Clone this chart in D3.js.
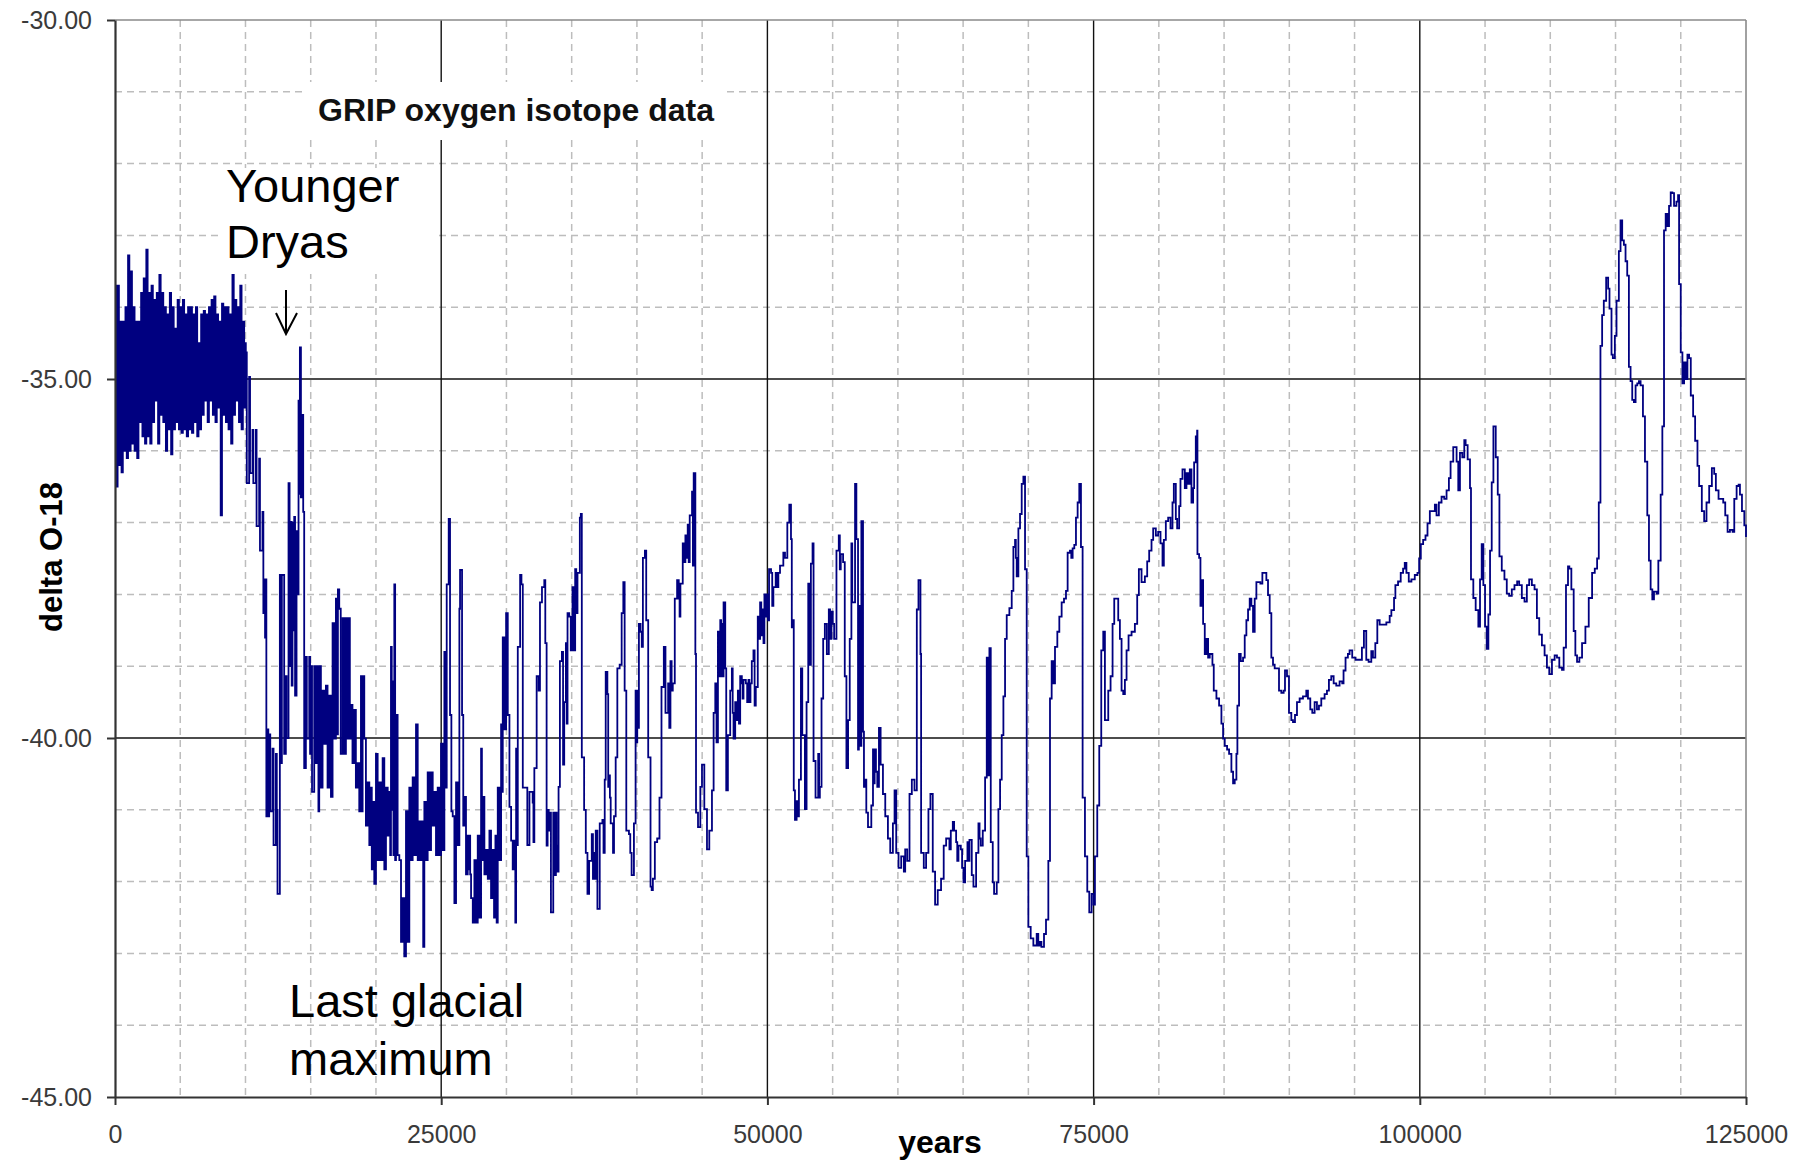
<!DOCTYPE html>
<html><head><meta charset="utf-8">
<script src="https://cdn.jsdelivr.net/npm/d3@7"></script>
<style>body{margin:0;background:#fff}svg{display:block}</style>
</head><body>
<svg id="c" width="1806" height="1167"></svg>
<script>
// GRIP delta O-18 readings: [years before present, delta O-18]
const holocene = [[0,-33.7],[100,-36.5],[200,-33.7],[300,-36.2],[400,-34.2],[500,-36.3],[600,-34.2],[700,-36.0],[800,-34.0],[900,-36.1],[1000,-33.28],[1100,-36.0],[1200,-33.5],[1300,-35.9],[1400,-34.0],[1500,-36.0],[1600,-34.2],[1700,-36.1],[1800,-34.2],[1900,-35.6],[2000,-33.8],[2100,-35.8],[2200,-33.6],[2300,-35.9],[2400,-33.2],[2500,-35.8],[2600,-33.8],[2700,-35.9],[2800,-33.7],[2900,-35.6],[3000,-33.9],[3100,-35.3],[3200,-33.8],[3300,-35.9],[3400,-33.55],[3500,-35.5],[3600,-33.8],[3700,-35.6],[3800,-34.0],[3900,-36.0],[4000,-34.1],[4100,-35.7],[4200,-33.8],[4300,-36.05],[4400,-34.0],[4500,-35.7],[4600,-34.3],[4700,-35.6],[4800,-33.9],[4900,-35.7],[5000,-34.0],[5100,-35.75],[5200,-33.9],[5300,-35.7],[5400,-34.1],[5500,-35.8],[5600,-34.0],[5700,-35.7],[5800,-34.0],[5900,-35.75],[6000,-34.1],[6100,-35.6],[6200,-34.0],[6300,-35.8],[6400,-34.5],[6500,-35.7],[6600,-34.1],[6700,-35.5],[6800,-34.05],[6900,-35.3],[7000,-34.1],[7100,-35.6],[7200,-34.0],[7300,-35.3],[7400,-33.9],[7500,-35.5],[7600,-33.85],[7700,-35.6],[7800,-34.1],[7900,-35.4],[8000,-34.2],[8100,-36.9],[8200,-33.95],[8300,-35.5],[8400,-34.0],[8500,-35.6],[8600,-34.0],[8700,-35.7],[8800,-34.1],[8900,-35.9],[9000,-33.45],[9100,-35.5],[9200,-33.9],[9300,-35.3],[9400,-34.0],[9500,-35.6],[9600,-33.7],[9700,-35.7],[9800,-34.2],[9900,-35.4],[10000,-34.5]];

const deglacial = [[10025,-34.63],[10100,-36.45],[10281,-34.97],[10350,-36.31],[10537,-35.71],[10600,-36.45],[10793,-35.71],[10850,-37.05],[11048,-36.11],[11110,-37.39],[11304,-36.85],[11370,-38.26],[11432,-37.79],[11500,-38.6],[11560,-37.79],[11600,-41.09],[11688,-39.88],[11750,-41.09],[11816,-39.95],[11900,-41.02],[12071,-40.15],[12150,-41.49],[12327,-40.22],[12400,-41.0],[12455,-42.17],[12634,-37.73],[12700,-40.35],[12788,-37.73],[12966,-40.22],[13094,-39.14],[13150,-40.0],[13299,-36.45],[13380,-39.0],[13478,-36.99],[13540,-39.27],[13606,-37.0],[13670,-38.5],[13734,-36.92],[13800,-39.41],[13913,-37.12],[13990,-38.0],[14066,-35.3],[14110,-36.6],[14169,-34.56],[14250,-36.65],[14322,-35.5],[14424,-36.85],[14500,-40.42],[14629,-38.87],[14700,-40.01],[14885,-38.87],[14950,-40.22],[15013,-39.0],[15100,-40.75],[15268,-39.0],[15400,-40.35],[15524,-39.0],[15590,-41.02],[15652,-39.0],[15780,-40.69],[15908,-39.34],[16030,-40.08],[16163,-39.27],[16290,-40.69],[16419,-39.41],[16550,-40.82],[16675,-38.40],[16800,-40.01],[16931,-38.06],[17000,-39.95],[17084,-37.93],[17186,-38.2],[17300,-40.22],[17442,-38.33],[17570,-40.22],[17698,-38.33],[17800,-40.01],[17903,-38.33],[18000,-40.01],[18082,-39.54],[18200,-40.35],[18337,-39.61],[18460,-40.69],[18593,-40.35],[18720,-41.02],[18849,-39.14],[18910,-41.02],[18977,-39.14],[19105,-40.01],[19230,-41.22],[19360,-40.62],[19490,-41.49],[19616,-40.69],[19680,-41.83],[19744,-40.89],[19870,-42.03],[20000,-40.22],[20130,-41.7],[20255,-40.62],[20380,-41.7],[20511,-40.28],[20640,-41.83],[20767,-40.69],[20900,-41.36],[21023,-40.75],[21090,-41.63],[21150,-38.73],[21210,-41.0],[21278,-39.21],[21340,-41.63],[21406,-37.86],[21470,-41.7],[21534,-39.68],[21660,-41.63],[21790,-41.7],[21920,-42.84],[22046,-42.23],[22170,-43.04],[22301,-41.02],[22430,-42.84],[22557,-40.69],[22690,-41.7],[22813,-40.55],[22940,-41.63],[23069,-39.81],[23200,-41.7],[23324,-41.16],[23430,-41.7],[23529,-41.16],[23620,-42.91],[23708,-40.89],[23840,-41.7],[23964,-40.48],[24090,-41.56],[24220,-40.48],[24350,-41.22],[24475,-40.75],[24600,-41.63],[24731,-40.69],[24860,-41.63],[24987,-40.08],[25110,-41.56],[25243,-38.80],[25330,-40.69],[25422,-37.86],[25575,-36.95],[25677,-39.68],[25780,-41.02],[25882,-41.09],[26010,-42.30],[26138,-40.62],[26260,-41.49],[26393,-38.20],[26445,-37.66],[26598,-39.68],[26690,-41.22],[26777,-40.82],[26900,-41.90],[27033,-41.36],[27100,-41.83],[27161,-41.36],[27220,-41.90],[27289,-42.23],[27420,-42.57],[27544,-41.70],[27670,-42.57],[27800,-41.36],[27930,-42.50],[28056,-40.15],[28120,-41.70],[28184,-40.82],[28310,-41.90],[28439,-41.56],[28570,-41.96],[28695,-41.29],[28820,-42.23],[28951,-41.56],[29050,-42.50],[29156,-41.36],[29250,-42.57],[29334,-40.69],[29460,-41.70],[29590,-39.81],[29650,-40.75],[29718,-38.60],[29850,-39.88],[29974,-38.26],[30102,-39.68],[30230,-40.96],[30358,-41.43],[30480,-41.83],[30613,-41.43],[30680,-42.57],[30741,-40.15],[30800,-41.49],[30869,-38.73],[31048,-37.73],[31150,-37.86],[31253,-40.69],[31508,-40.69],[31600,-41.49],[31764,-40.75]];

const stage3 = [[32010,-40.9],[32070,-41.45],[32138,-40.42],[32316,-39.14],[32468,-39.34],[32570,-38.11],[32723,-37.9],[32901,-37.8],[32978,-38.68],[33079,-41.5],[33155,-41.0],[33240,-41.29],[33334,-41.04],[33410,-42.43],[33486,-42.43],[33588,-41.04],[33690,-41.91],[33792,-41.04],[33850,-41.5],[33919,-41.86],[33995,-40.68],[34097,-38.93],[34250,-38.80],[34340,-40.37],[34428,-39.5],[34555,-38.68],[34620,-39.8],[34682,-38.26],[34809,-38.31],[34930,-38.78],[35064,-37.9],[35160,-38.78],[35267,-37.65],[35350,-38.26],[35445,-37.7],[35624,-36.93],[35700,-36.88],[35776,-40.27],[35954,-41.0],[36082,-41.6],[36209,-42.17],[36336,-41.71],[36540,-41.34],[36630,-41.96],[36718,-41.6],[36780,-41.96],[36845,-41.29],[36972,-42.38],[37150,-41.19],[37354,-41.14],[37440,-41.6],[37532,-40.58],[37608,-39.08],[37736,-39.39],[37800,-40.68],[37863,-40.52],[37930,-40.83],[37990,-41.19],[38168,-41.6],[38244,-41.09],[38372,-40.27],[38499,-39.03],[38677,-38.98],[38830,-38.26],[38957,-37.83],[39059,-39.34],[39186,-41.29],[39389,-41.34],[39490,-41.6],[39593,-41.91],[39771,-41.19],[39898,-39.34],[39960,-40.06],[40026,-39.34],[40090,-39.86],[40153,-38.41],[40280,-38.52],[40370,-38.73],[40458,-37.49],[40611,-37.39],[40713,-38.36],[40865,-40.27],[41043,-42.07],[41130,-42.12],[41222,-41.96],[41374,-41.45],[41552,-41.4],[41730,-40.83],[41883,-39.29],[42061,-38.73],[42188,-39.65],[42392,-39.24],[42480,-39.86],[42570,-38.93],[42660,-39.34],[42748,-39.24],[42901,-38.06],[43079,-37.8],[43206,-38.06],[43270,-38.31],[43333,-37.85],[43512,-37.29],[43610,-37.55],[43715,-37.18],[43800,-37.49],[43893,-37.03],[43970,-37.55],[44046,-36.9],[44224,-36.57],[44290,-37.6],[44351,-36.31],[44478,-38.83],[44529,-41.04],[44682,-41.24],[44860,-40.68],[44987,-40.37],[45165,-40.99],[45369,-41.55],[45547,-41.29],[45751,-40.73],[45878,-39.65],[46005,-39.24],[46100,-40.06],[46209,-38.52],[46300,-39.14],[46387,-38.36],[46450,-39.14],[46514,-38.41],[46580,-39.14],[46641,-38.11],[46769,-39.03],[46845,-40.73],[46972,-39.96],[47150,-39.34],[47277,-39.03],[47340,-39.65],[47405,-40.01],[47532,-39.5],[47630,-39.75],[47736,-39.34],[47820,-39.8],[47914,-39.14],[48041,-39.24],[48100,-39.45],[48168,-39.19],[48346,-39.24],[48450,-39.5],[48550,-39.19],[48620,-39.5],[48702,-39.24],[48804,-38.93],[48931,-38.78],[49020,-39.55],[49109,-39.29],[49262,-38.31],[49350,-38.62],[49440,-38.11],[49530,-38.57],[49618,-38.21],[49700,-38.68],[49771,-38.0],[49860,-38.31],[49949,-38.0],[50040,-38.36],[50127,-37.65],[50280,-37.7],[50370,-38.16],[50458,-37.9],[50636,-37.7],[50740,-37.9],[50840,-37.7],[50967,-37.6],[51221,-37.42],[51349,-37.49],[51527,-37.0],[51680,-36.75],[51807,-37.23],[51870,-38.46],[51934,-38.36],[52020,-40.73],[52112,-41.14],[52239,-40.88],[52330,-41.09],[52417,-40.58],[52570,-39.03],[52672,-39.96],[52875,-40.99],[53002,-39.5],[53130,-37.85],[53230,-38.98],[53333,-37.57],[53460,-37.29],[53537,-40.32],[53689,-40.83],[53893,-40.22],[53960,-40.83],[54020,-40.68],[54148,-39.45],[54275,-38.62],[54402,-38.41],[54555,-38.83],[54707,-38.21],[54800,-38.62],[54911,-38.24],[55010,-38.41],[55115,-38.62],[55293,-37.39],[55471,-37.18],[55550,-37.65],[55623,-37.44],[55801,-37.55],[55929,-39.14],[56056,-40.42],[56183,-39.75],[56310,-38.62],[56438,-37.29],[56500,-38.11],[56565,-38.11],[56718,-36.46],[56819,-37.23],[56946,-40.16],[57010,-38.16],[57074,-40.11],[57201,-36.98],[57328,-39.91],[57400,-40.68],[57455,-40.58],[57580,-41.04],[57710,-41.24],[57964,-40.94],[58092,-40.16],[58150,-40.63],[58219,-40.16],[58320,-40.47],[58422,-40.68],[58549,-39.86],[58677,-40.37],[58855,-40.78],[59033,-41.09],[59237,-41.4],[59415,-41.6],[59618,-41.19],[59745,-40.73],[59873,-41.6],[60051,-41.81],[60255,-41.65],[60458,-41.86],[60560,-41.55],[60713,-41.71],[60891,-40.78],[61069,-40.58],[61272,-40.73],[61451,-38.21],[61578,-37.8],[61730,-38.83],[61781,-41.6],[61985,-41.81],[62163,-41.6],[62341,-40.99],[62494,-40.78],[62673,-41.86],[62851,-42.32],[63054,-42.12],[63309,-41.96],[63512,-41.5]];

const stage4 = [[63699,-41.40],[63878,-41.40],[63950,-41.55],[64056,-41.29],[64209,-41.17],[64311,-41.29],[64464,-41.45],[64550,-41.71],[64643,-41.50],[64822,-41.55],[64920,-41.81],[65026,-42.01],[65153,-41.71],[65332,-41.45],[65400,-41.71],[65485,-41.42],[65663,-41.91],[65791,-42.07],[65995,-41.60],[66174,-41.19],[66260,-41.40],[66352,-41.50],[66505,-41.29],[66684,-40.55],[66811,-38.88],[66939,-40.52],[67015,-38.75],[67118,-41.45],[67271,-42.01],[67373,-42.17],[67577,-42.01],[67704,-40.99],[67832,-40.58],[67959,-39.96],[68087,-39.42],[68214,-38.62],[68342,-38.29],[68546,-38.19],[68725,-37.95],[68852,-37.34],[68980,-37.24],[69040,-37.49],[69107,-37.75],[69235,-37.08],[69362,-36.88],[69490,-36.46],[69618,-36.36],[69745,-37.65],[69873,-41.65],[70000,-42.63],[70179,-42.79],[70383,-42.89],[70638,-42.73],[70760,-42.89],[70893,-42.84],[71000,-42.91],[71199,-42.73],[71352,-42.53],[71531,-41.71],[71658,-39.45],[71786,-38.93],[71913,-39.24],[72041,-38.73],[72220,-38.52],[72373,-38.31],[72551,-38.11],[72730,-38.06],[72883,-37.95],[73010,-37.42],[73189,-37.39],[73290,-37.49],[73393,-37.36],[73521,-37.31],[73648,-36.93],[73776,-36.72],[73903,-36.46],[74031,-37.34],[74158,-40.83],[74337,-41.65],[74515,-42.14],[74668,-42.43],[74847,-42.17],[75000,-42.32],[75102,-41.65],[75281,-40.94],[75434,-40.11],[75587,-38.78],[75740,-38.52],[75867,-39.75],[75995,-39.75],[76123,-39.34],[76301,-39.14],[76454,-38.41],[76582,-38.06],[76760,-38.06],[76888,-38.36],[77015,-38.62],[77143,-39.34],[77271,-39.39],[77398,-39.19],[77526,-38.78],[77679,-38.57],[77909,-38.52],[78163,-38.41],[78342,-38.01],[78469,-37.65],[78674,-37.83],[78929,-37.75],[79107,-37.54],[79260,-37.39],[79439,-37.24],[79566,-37.08],[79770,-37.18],[79949,-37.13],[80128,-37.29],[80281,-37.60],[80383,-37.24],[80536,-36.98],[80714,-36.93],[80893,-37.08],[81046,-36.72],[81148,-36.46],[81301,-36.95],[81403,-37.08],[81556,-36.77],[81658,-36.39],[81811,-36.26],[81990,-36.52],[82117,-36.31],[82245,-36.46],[82373,-36.26],[82500,-36.72],[82628,-36.52],[82704,-36.16],[82832,-35.80],[82934,-35.72],[82959,-37.44],[83087,-37.49],[83189,-38.16],[83291,-37.80],[83393,-38.41],[83520,-38.83],[83648,-38.62],[83776,-38.88],[83903,-38.83],[84107,-38.98],[84209,-39.34],[84413,-39.45],[84617,-39.55],[84796,-39.80],[84924,-40.01],[85051,-40.11],[85230,-40.16],[85383,-40.22],[85561,-40.47],[85689,-40.63],[85816,-40.58],[85944,-40.22],[86020,-39.55],[86148,-38.83],[86276,-38.93],[86454,-38.88],[86582,-38.57],[86709,-38.36],[86837,-38.21],[86964,-38.06],[87092,-38.16],[87219,-38.52],[87347,-38.06],[87475,-37.83],[87602,-37.83],[87781,-37.85],[87934,-37.70],[88112,-37.70],[88240,-37.80],[88367,-38.01],[88495,-38.26],[88622,-38.88],[88750,-38.98],[88878,-39.03],[89056,-39.03],[89209,-39.34],[89388,-39.37],[89566,-39.34],[89668,-39.06],[89821,-39.14],[89974,-39.65],[90153,-39.75],[90281,-39.78],[90434,-39.68],[90587,-39.50],[90791,-39.45],[91046,-39.42],[91301,-39.34],[91429,-39.45],[91607,-39.60],[91760,-39.65],[91939,-39.50],[92117,-39.60],[92270,-39.55],[92449,-39.45],[92704,-39.39],[92883,-39.34],[93036,-39.19],[93214,-39.14],[93397,-39.24],[93597,-39.27],[93852,-39.21],[94054,-39.24],[94156,-39.06],[94309,-38.88],[94488,-38.83],[94617,-38.78],[94820,-38.88],[95075,-38.91],[95331,-38.91]];

const eemian = [[95564,-38.74],[95718,-38.51],[95897,-38.91],[96077,-38.94],[96282,-38.79],[96410,-38.88],[96590,-38.68],[96744,-38.36],[96923,-38.42],[97179,-38.42],[97436,-38.39],[97692,-38.30],[97820,-38.22],[98026,-38.05],[98128,-37.87],[98333,-37.82],[98538,-37.70],[98718,-37.64],[98846,-37.56],[98974,-37.70],[99154,-37.82],[99359,-37.79],[99615,-37.73],[99820,-37.70],[99949,-37.50],[100077,-37.30],[100256,-37.24],[100436,-37.18],[100590,-37.01],[100769,-36.84],[100948,-36.84],[101154,-36.75],[101282,-36.90],[101461,-36.72],[101666,-36.64],[101872,-36.67],[102051,-36.55],[102230,-36.38],[102359,-36.15],[102564,-35.95],[102692,-35.95],[102820,-36.15],[102948,-36.55],[103077,-36.03],[103256,-36.09],[103410,-35.85],[103512,-35.92],[103666,-36.12],[103846,-36.52],[103923,-37.79],[104102,-38.05],[104282,-38.22],[104487,-38.45],[104615,-37.79],[104743,-37.30],[104871,-37.87],[105000,-38.45],[105128,-38.76],[105256,-38.28],[105384,-37.39],[105512,-36.44],[105641,-35.66],[105820,-36.09],[105974,-36.61],[106102,-37.47],[106282,-37.67],[106487,-37.79],[106666,-37.99],[106846,-38.02],[107051,-37.93],[107256,-37.87],[107461,-37.82],[107615,-37.87],[107820,-38.05],[108025,-38.10],[108205,-37.87],[108384,-37.79],[108589,-37.87],[108794,-37.93],[108974,-38.33],[109153,-38.56],[109358,-38.71],[109564,-38.85],[109743,-39.02],[109922,-39.11],[110128,-38.91],[110333,-38.85],[110512,-38.88],[110692,-39.02],[110897,-39.05],[111025,-38.74],[111204,-37.87],[111358,-37.61],[111461,-37.64],[111615,-37.93],[111794,-38.51],[111922,-38.85],[112051,-38.94],[112230,-38.88],[112435,-38.68],[112692,-38.45],[112948,-38.05],[113204,-37.70],[113410,-37.64],[113589,-37.50],[113717,-36.72],[113845,-34.54],[113974,-34.11],[114102,-33.91],[114282,-33.59],[114435,-33.74],[114538,-34.02],[114692,-34.66],[114794,-34.71],[114948,-34.40],[115076,-33.91],[115256,-33.22],[115384,-32.79],[115512,-33.07],[115640,-33.13],[115768,-33.36],[115897,-33.56],[116025,-34.83],[116153,-35.03],[116281,-35.29],[116409,-35.32],[116538,-35.09],[116666,-35.06],[116794,-35.03],[116922,-35.09],[117102,-35.52],[117256,-36.15],[117435,-36.90],[117563,-37.53],[117691,-37.93],[117820,-38.07],[117948,-37.96],[118153,-37.99],[118281,-37.53],[118461,-36.61],[118589,-35.66],[118717,-32.93],[118845,-32.70],[118974,-32.87],[119102,-32.59],[119230,-32.40],[119358,-32.41],[119486,-32.59],[119666,-32.53],[119794,-32.44],[119871,-33.68],[119999,-34.63],[120127,-35.06],[120255,-34.77],[120384,-35.00],[120512,-34.66],[120640,-34.71],[120768,-35.23],[120948,-35.52],[121101,-35.86],[121281,-36.21],[121409,-36.49],[121614,-36.84],[121794,-36.98],[121973,-36.72],[122178,-36.49],[122384,-36.24],[122563,-36.32],[122691,-36.55],[122896,-36.67],[123076,-36.67],[123255,-36.72],[123409,-36.90],[123589,-37.13],[123768,-37.10],[123973,-37.13],[124101,-36.67],[124281,-36.49],[124435,-36.47],[124537,-36.61],[124691,-36.84],[124871,-37.04],[125000,-37.20]];

const xTicks = [0, 25000, 50000, 75000, 100000, 125000];
const yTicks = [-30, -35, -40, -45];
const xMinor = [5000,10000,15000,20000,30000,35000,40000,45000,55000,60000,65000,70000,80000,85000,90000,95000,105000,110000,115000,120000];
const yMinor = [-31,-32,-33,-34,-36,-37,-38,-39,-41,-42,-43,-44];
const chartTitle = "GRIP oxygen isotope data";
const xTitle = "years";
const yTitle = "delta O-18";
const noteYD = ["Younger", "Dryas"];
const noteLGM = ["Last glacial", "maximum"];

const series = holocene.concat(deglacial, stage3, stage4, eemian);
const FONT = "'Liberation Sans', Arial, sans-serif";

const svg = d3.select("#c");
const L = 115, R = 1746, T = 20, B = 1097;
const x = d3.scaleLinear().domain([0, 125000]).range([L, R]);
const y = d3.scaleLinear().domain([-45, -30]).range([B, T]);

svg.append("rect").attr("width", 1806).attr("height", 1167).attr("fill", "#fff");

// minor dashed grid
const g = svg.append("g");
g.selectAll(".hm").data(yMinor).join("line")
  .attr("x1", L).attr("x2", R).attr("y1", d => y(d)).attr("y2", d => y(d))
  .attr("stroke", "#bdbdbd").attr("stroke-width", 1.5).attr("stroke-dasharray", "7,5");
g.selectAll(".vm").data(xMinor).join("line")
  .attr("y1", T).attr("y2", B).attr("x1", d => x(d)).attr("x2", d => x(d))
  .attr("stroke", "#bdbdbd").attr("stroke-width", 1.5).attr("stroke-dasharray", "7,5");
// major solid grid
g.selectAll(".hM").data(yTicks.slice(1, -1)).join("line")
  .attr("x1", L).attr("x2", R).attr("y1", d => y(d)).attr("y2", d => y(d))
  .attr("stroke", "#111").attr("stroke-width", 1.4);
g.selectAll(".vM").data(xTicks.slice(1, -1)).join("line")
  .attr("y1", T).attr("y2", B).attr("x1", d => x(d)).attr("x2", d => x(d))
  .attr("stroke", "#111").attr("stroke-width", 1.4);
// top and right frame
svg.append("line").attr("x1", L).attr("x2", R).attr("y1", T).attr("y2", T).attr("stroke", "#8a8a8a").attr("stroke-width", 1.6);
svg.append("line").attr("x1", R).attr("x2", R).attr("y1", T).attr("y2", B).attr("stroke", "#8a8a8a").attr("stroke-width", 1.6);

// data line
const line = d3.line().x(d => x(d[0])).y(d => y(d[1])).curve(d3.curveStepAfter);
svg.append("path").datum(series).attr("d", line)
  .attr("fill", "none").attr("stroke", "#000080").attr("stroke-width", 1.8).attr("stroke-linejoin", "miter");

// axes
const ya = svg.append("g").attr("transform", `translate(${L},0)`)
  .call(d3.axisLeft(y).tickValues(yTicks).tickSize(8).tickSizeOuter(0).tickPadding(15).tickFormat(d => d.toFixed(2)));
const xa = svg.append("g").attr("transform", `translate(0,${B})`)
  .call(d3.axisBottom(x).tickValues(xTicks).tickSize(8).tickSizeOuter(0).tickPadding(20).tickFormat(d3.format("d")));
[ya, xa].forEach(a => {
  a.select(".domain").attr("stroke", "#333").attr("stroke-width", 2.2);
  a.selectAll(".tick line").attr("stroke", "#333").attr("stroke-width", 2);
  a.selectAll(".tick text").attr("fill", "#3a3a3a").style("font-family", FONT).style("font-size", "25px");
});

// title with white box
svg.append("rect").attr("x", 307).attr("y", 82).attr("width", 420).attr("height", 58).attr("fill", "#fff");
svg.append("text").attr("x", 318).attr("y", 121).text(chartTitle)
  .style("font-family", FONT).style("font-size", "32px").style("font-weight", "bold").attr("fill", "#111");

// Younger Dryas annotation
svg.append("rect").attr("x", 222).attr("y", 168).attr("width", 212).attr("height", 106).attr("fill", "#fff");
svg.append("g").selectAll("text").data(noteYD).join("text")
  .attr("x", 226).attr("y", (d, i) => 202 + i * 56).text(d => d)
  .style("font-family", FONT).style("font-size", "47px").attr("fill", "#000");
svg.append("path").attr("d", "M286,290 L286,334 M276,313 L286,334 L297,313")
  .attr("fill", "none").attr("stroke", "#000").attr("stroke-width", 2);

// Last glacial maximum annotation
svg.append("g").selectAll("text").data(noteLGM).join("text")
  .attr("x", 289).attr("y", (d, i) => 1017 + i * 58).text(d => d)
  .style("font-family", FONT).style("font-size", "47px").attr("fill", "#000");

// axis titles
svg.append("text").attr("transform", "translate(62,557) rotate(-90)").attr("text-anchor", "middle")
  .text(yTitle).style("font-family", FONT).style("font-size", "31px").style("font-weight", "bold");
svg.append("text").attr("x", 940).attr("y", 1153).attr("text-anchor", "middle")
  .text(xTitle).style("font-family", FONT).style("font-size", "32px").style("font-weight", "bold");
</script>
</body></html>
